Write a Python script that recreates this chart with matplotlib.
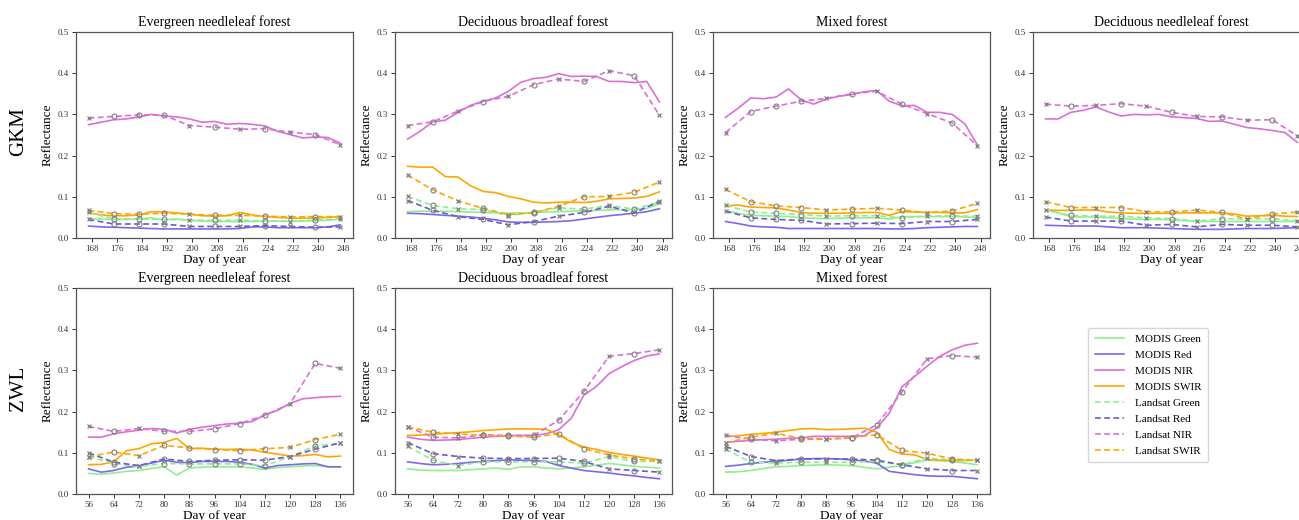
import matplotlib
matplotlib.use("Agg")
import matplotlib.pyplot as plt
from matplotlib.lines import Line2D
import numpy as np

plt.rcParams['font.family'] = ['Liberation Serif', 'DejaVu Serif']

# ---------------- data ----------------
GKM_MODIS_DAYS = [167, 171, 175, 179, 183, 187, 191, 195, 199, 203, 207, 211, 215, 219, 223, 227, 231, 235, 239, 243, 247]
GKM_LANDSAT_DAYS = [167, 175, 183, 191, 199, 207, 215, 223, 231, 239, 247]
ZWL_MODIS_DAYS = [56, 60, 64, 68, 72, 76, 80, 84, 88, 92, 96, 100, 104, 108, 112, 116, 120, 124, 128, 132, 136]
ZWL_LANDSAT_DAYS = [56, 64, 72, 80, 88, 96, 104, 112, 120, 128, 136]
GKM_TICKS = [168, 176, 184, 192, 200, 208, 216, 224, 232, 240, 248]
ZWL_TICKS = [56, 64, 72, 80, 88, 96, 104, 112, 120, 128, 136]

TITLES = ["Evergreen needleleaf forest", "Deciduous broadleaf forest", "Mixed forest",
          "Deciduous needleleaf forest", "Evergreen needleleaf forest",
          "Deciduous broadleaf forest", "Mixed forest"]
ROW_LABELS = ["GKM", "ZWL"]
SERIES_LABELS = ["MODIS Green", "MODIS Red", "MODIS NIR", "MODIS SWIR",
                 "Landsat Green", "Landsat Red", "Landsat NIR", "Landsat SWIR"]

# Panel 1: GKM evergreen needleleaf
p1_m_green = [.048, .046, .045, .045, .046, .049, .044, .046, .043, .041, .040, .040, .040, .040, .041, .041, .041, .041, .042, .043, .046]
p1_m_red = [.029, .027, .026, .025, .024, .023, .022, .022, .022, .022, .022, .022, .023, .027, .027, .025, .025, .025, .025, .027, .032]
p1_m_nir = [.275, .281, .287, .289, .294, .300, .296, .294, .289, .281, .283, .276, .278, .276, .272, .259, .251, .243, .245, .244, .230]
p1_m_swir = [.061, .056, .054, .054, .056, .064, .063, .061, .058, .054, .053, .054, .062, .056, .052, .050, .048, .048, .049, .050, .052]
p1_l_green = [.062, .047, .046, .045, .044, .043, .043, .042, .040, .044, .046]
p1_l_red = [.045, .034, .034, .034, .028, .028, .028, .030, .028, .026, .027]
p1_l_nir = [.291, .295, .299, .298, .273, .269, .264, .265, .257, .251, .226]
p1_l_swir = [.067, .059, .058, .060, .058, .055, .055, .053, .051, .052, .052]
p1_marks = [1, 0, 0, 0, 1, 0, 1, 0, 1, 0, 1]

# Panel 2: GKM deciduous broadleaf
p2_m_green = [.064, .065, .065, .065, .064, .063, .062, .061, .060, .061, .062, .063, .064, .065, .066, .067, .068, .069, .069, .072, .083]
p2_m_red = [.060, .059, .057, .055, .053, .051, .048, .044, .039, .038, .038, .039, .040, .042, .046, .050, .054, .057, .060, .064, .071]
p2_m_nir = [.240, .259, .282, .286, .305, .322, .332, .340, .356, .378, .387, .390, .399, .392, .393, .392, .380, .380, .377, .380, .330]
p2_m_swir = [.174, .172, .172, .149, .148, .127, .113, .110, .101, .095, .087, .085, .087, .087, .086, .089, .095, .096, .097, .101, .112]
p2_l_green = [.101, .079, .071, .069, .054, .063, .073, .070, .079, .070, .087]
p2_l_red = [.091, .067, .052, .045, .032, .040, .053, .062, .077, .061, .089]
p2_l_nir = [.273, .282, .308, .331, .344, .372, .386, .380, .406, .394, .298]
p2_l_swir = [.153, .117, .090, .072, .057, .061, .077, .100, .101, .111, .136]
p2_marks = [1, 0, 1, 0, 1, 0, 1, 0, 1, 0, 1]

# Panel 3: GKM mixed
p3_m_green = [.066, .060, .055, .054, .053, .052, .049, .048, .047, .048, .049, .049, .049, .046, .051, .052, .052, .052, .052, .051, .050]
p3_m_red = [.040, .035, .029, .027, .026, .023, .023, .023, .023, .023, .023, .023, .023, .022, .022, .023, .025, .026, .027, .028, .028]
p3_m_nir = [.293, .315, .340, .338, .342, .362, .335, .325, .337, .344, .348, .355, .358, .332, .321, .322, .305, .305, .300, .277, .226]
p3_m_swir = [.078, .080, .075, .074, .073, .068, .062, .060, .060, .060, .061, .062, .062, .055, .064, .063, .062, .062, .061, .061, .069]
p3_l_green = [.079, .063, .060, .057, .053, .054, .054, .049, .053, .054, .053]
p3_l_red = [.065, .049, .045, .043, .034, .035, .036, .035, .040, .040, .045]
p3_l_nir = [.256, .307, .320, .332, .339, .350, .356, .325, .302, .279, .224]
p3_l_swir = [.118, .088, .078, .074, .068, .070, .072, .068, .061, .066, .084]
p3_marks = [1, 0, 0, 0, 1, 0, 1, 0, 1, 0, 1]

# Panel 4: GKM deciduous needleleaf
p4_m_green = [.068, .061, .052, .051, .051, .049, .047, .046, .045, .045, .044, .042, .040, .040, .040, .040, .040, .040, .040, .040, .040]
p4_m_red = [.031, .030, .029, .029, .029, .027, .025, .025, .025, .024, .023, .022, .021, .021, .021, .022, .023, .023, .023, .024, .025]
p4_m_nir = [.289, .289, .305, .310, .318, .306, .296, .300, .299, .300, .294, .292, .290, .283, .284, .276, .268, .265, .261, .256, .232]
p4_m_swir = [.068, .067, .067, .068, .068, .063, .061, .060, .060, .060, .060, .061, .061, .061, .061, .058, .053, .054, .055, .053, .052]
p4_l_green = [.068, .055, .053, .053, .049, .047, .041, .047, .046, .047, .042]
p4_l_red = [.051, .041, .041, .041, .031, .033, .027, .033, .031, .031, .027]
p4_l_nir = [.325, .320, .322, .326, .320, .305, .295, .294, .286, .287, .248]
p4_l_swir = [.088, .074, .074, .074, .064, .063, .068, .062, .046, .058, .063]
p4_marks = [1, 0, 1, 0, 1, 0, 1, 0, 1, 0, 1]

# Panel 5: ZWL evergreen needleleaf
p5_m_green = [.050, .048, .051, .055, .057, .062, .066, .046, .063, .065, .066, .066, .066, .063, .060, .064, .066, .068, .069, .066, .066]
p5_m_red = [.061, .053, .057, .065, .068, .075, .082, .077, .076, .079, .079, .079, .077, .072, .063, .069, .071, .073, .074, .066, .066]
p5_m_nir = [.138, .138, .146, .151, .155, .159, .157, .148, .157, .162, .166, .170, .172, .176, .192, .203, .220, .231, .234, .236, .237]
p5_m_swir = [.071, .072, .078, .105, .110, .122, .125, .135, .110, .111, .109, .108, .109, .107, .101, .097, .092, .093, .096, .090, .092]
p5_l_green = [.091, .074, .067, .074, .073, .073, .073, .069, .091, .117, .123]
p5_l_red = [.100, .077, .069, .085, .079, .082, .083, .082, .091, .109, .124]
p5_l_nir = [.164, .152, .159, .152, .152, .158, .171, .191, .219, .317, .305]
p5_l_swir = [.090, .102, .093, .118, .112, .108, .105, .110, .113, .132, .145]
p5_marks = [1, 0, 1, 0, 0, 0, 0, 0, 1, 0, 1]

# Panel 6: ZWL deciduous broadleaf
p6_m_green = [.061, .058, .057, .057, .057, .059, .061, .063, .060, .066, .066, .063, .061, .063, .066, .070, .074, .071, .067, .065, .063]
p6_m_red = [.078, .074, .071, .072, .074, .077, .079, .081, .083, .082, .081, .079, .069, .063, .057, .054, .051, .047, .044, .040, .037]
p6_m_nir = [.138, .133, .130, .131, .132, .135, .138, .140, .142, .142, .142, .146, .156, .184, .240, .261, .292, .309, .324, .335, .340]
p6_m_swir = [.142, .143, .145, .147, .149, .151, .154, .156, .158, .158, .158, .157, .144, .126, .114, .108, .101, .096, .092, .087, .083]
p6_l_green = [.116, .082, .069, .078, .078, .078, .078, .075, .091, .079, .079]
p6_l_red = [.125, .098, .091, .087, .086, .086, .087, .079, .061, .057, .053]
p6_l_nir = [.163, .138, .136, .144, .142, .142, .179, .249, .334, .341, .350]
p6_l_swir = [.163, .150, .146, .142, .140, .138, .146, .110, .095, .085, .080]
p6_marks = [1, 0, 1, 0, 0, 0, 0, 0, 1, 0, 1]

# Panel 7: ZWL mixed
p7_m_green = [.053, .054, .057, .062, .066, .067, .069, .070, .071, .070, .069, .065, .061, .065, .069, .076, .082, .081, .079, .075, .071]
p7_m_red = [.067, .070, .074, .077, .079, .082, .085, .086, .086, .085, .083, .080, .075, .055, .051, .047, .044, .043, .043, .040, .037]
p7_m_nir = [.125, .128, .130, .132, .133, .135, .136, .140, .140, .140, .140, .141, .160, .196, .260, .285, .310, .334, .350, .361, .366]
p7_m_swir = [.140, .141, .145, .147, .150, .154, .158, .159, .156, .157, .158, .160, .150, .108, .097, .095, .084, .082, .081, .081, .082]
p7_l_green = [.109, .077, .075, .077, .077, .077, .079, .071, .087, .083, .082]
p7_l_red = [.116, .091, .081, .085, .085, .085, .082, .071, .061, .057, .057]
p7_l_nir = [.142, .133, .129, .133, .133, .136, .168, .247, .328, .336, .332]
p7_l_swir = [.124, .138, .147, .135, .134, .137, .144, .106, .099, .085, .082]
p7_marks = [1, 0, 1, 0, 1, 0, 0, 0, 1, 0, 1]

# ---------------- styling ----------------
MODIS_COLORS = ['#90EE90', '#7B68EE', '#DA70D6', '#FFA500']
LANDSAT_COLORS = ['#90EE90', '#6A5ACD', '#DA70D6', '#FFA500']
MARK_COLOR = '#808080'

W, H = 1299, 520
fig = plt.figure(figsize=(W / 100, H / 100), dpi=100)

lefts = [76, 395, 713, 1033]
ax_w, ax_h = 277, 206
tops = [32, 288]

panels = [
    (0, 0, [p1_m_green, p1_m_red, p1_m_nir, p1_m_swir], [p1_l_green, p1_l_red, p1_l_nir, p1_l_swir], p1_marks),
    (0, 1, [p2_m_green, p2_m_red, p2_m_nir, p2_m_swir], [p2_l_green, p2_l_red, p2_l_nir, p2_l_swir], p2_marks),
    (0, 2, [p3_m_green, p3_m_red, p3_m_nir, p3_m_swir], [p3_l_green, p3_l_red, p3_l_nir, p3_l_swir], p3_marks),
    (0, 3, [p4_m_green, p4_m_red, p4_m_nir, p4_m_swir], [p4_l_green, p4_l_red, p4_l_nir, p4_l_swir], p4_marks),
    (1, 0, [p5_m_green, p5_m_red, p5_m_nir, p5_m_swir], [p5_l_green, p5_l_red, p5_l_nir, p5_l_swir], p5_marks),
    (1, 1, [p6_m_green, p6_m_red, p6_m_nir, p6_m_swir], [p6_l_green, p6_l_red, p6_l_nir, p6_l_swir], p6_marks),
    (1, 2, [p7_m_green, p7_m_red, p7_m_nir, p7_m_swir], [p7_l_green, p7_l_red, p7_l_nir, p7_l_swir], p7_marks),
]

for i, (row, col, modis, landsat, marks) in enumerate(panels):
    l = lefts[col]
    t = tops[row]
    ax = fig.add_axes([l / W, 1 - (t + ax_h) / H, ax_w / W, ax_h / H])
    mdays = GKM_MODIS_DAYS if row == 0 else ZWL_MODIS_DAYS
    ldays = np.array(GKM_LANDSAT_DAYS if row == 0 else ZWL_LANDSAT_DAYS)
    ticks = GKM_TICKS if row == 0 else ZWL_TICKS
    for k in range(4):
        ax.plot(mdays, modis[k], color=MODIS_COLORS[k], lw=1.2, zorder=2)
    mk = np.array(marks, dtype=bool)
    for k in range(4):
        y = np.array(landsat[k])
        ax.plot(ldays, y, color=LANDSAT_COLORS[k], lw=1.2, ls=(0, (3.5, 2)), zorder=3)
        ax.plot(ldays[~mk], y[~mk], ls='none', marker='o', ms=3.6, mfc='none',
                mec=MARK_COLOR, mew=0.8, zorder=4)
        ax.plot(ldays[mk], y[mk], ls='none', marker='x', ms=3.4,
                mec=MARK_COLOR, mew=0.9, zorder=4)
    ax.set_ylim(0, 0.5)
    ax.set_yticks([0.0, 0.1, 0.2, 0.3, 0.4, 0.5])
    ax.set_yticklabels(['0.0', '0.1', '0.2', '0.3', '0.4', '0.5'])
    ax.set_xticks(ticks)
    ax.tick_params(axis='both', labelsize=6.5, length=3, width=0.7, pad=2, colors='#333333')
    for s in ax.spines.values():
        s.set_color('#555555')
        s.set_linewidth(0.9)
    ax.set_title(TITLES[i], fontsize=10, pad=4)
    ax.set_xlabel("Day of year", fontsize=9.5, labelpad=1)
    ax.set_ylabel("Reflectance", fontsize=9.5, labelpad=3)

for r, lab in enumerate(ROW_LABELS):
    yc = tops[r] + ax_h / 2 - 3
    fig.text(19 / W, 1 - yc / H, lab, rotation=90, fontsize=15, ha='center', va='center')

handles = [Line2D([0], [0], color=MODIS_COLORS[k], lw=1.2) for k in range(4)] + \
          [Line2D([0], [0], color=LANDSAT_COLORS[k], lw=1.2, ls=(0, (3.5, 2))) for k in range(4)]
fig.legend(handles, SERIES_LABELS, loc='center', bbox_to_anchor=(1148 / W, 1 - 395 / H),
           fontsize=8, frameon=True, labelspacing=0.55, handlelength=2.6, handletextpad=1.0,
           borderpad=0.6, edgecolor='#cccccc', fancybox=True)

fig.savefig("out.png", dpi=100)
